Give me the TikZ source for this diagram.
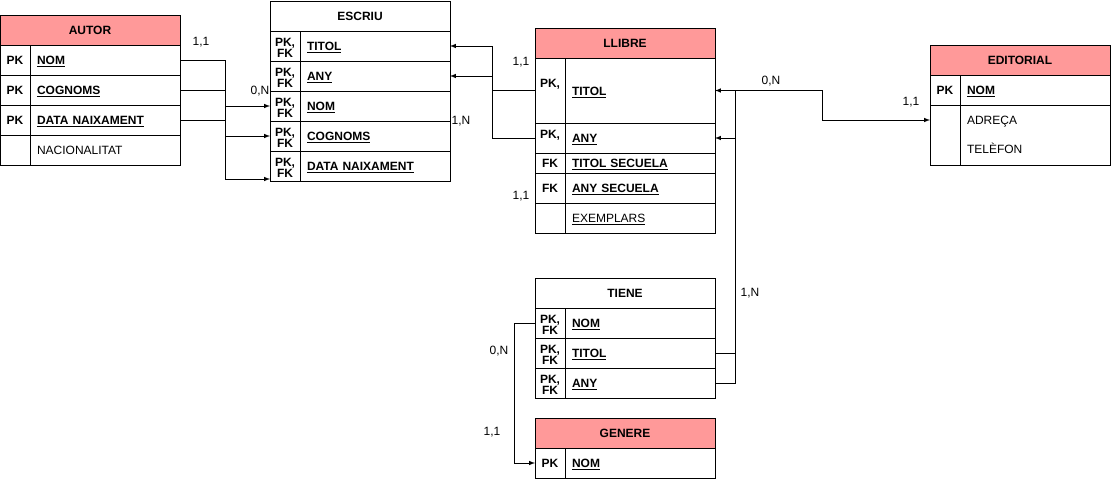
\documentclass[tikz,border=0pt]{standalone}
\usepackage{fontspec}
\setmainfont{Liberation Sans}
\usetikzlibrary{positioning}
\definecolor{hdrred}{HTML}{FF9999}

\begin{document}
\begin{tikzpicture}[x=1pt, y=-1pt, line width=1pt, font=\fontsize{12}{12}\selectfont]
        \tikzstyle{head} = [rectangle, draw, minimum width=180pt, minimum height=30pt, inner sep=0pt, outer sep=0pt, text height=10pt, text depth=0.4pt, font=\fontsize{12}{12}\selectfont\bfseries]
        \tikzstyle{ent} = [head, fill=hdrred]
        \tikzstyle{key} = [rectangle, draw, minimum width=30pt, minimum height=30pt, inner sep=0pt, outer sep=0pt, align=center, text height=10pt, text depth=0.4pt, font=\fontsize{12}{11}\selectfont\bfseries]
        \tikzstyle{keyfk} = [key, text height=23pt, text depth=0pt]
        \tikzstyle{attr} = [rectangle, draw, minimum width=150pt, minimum height=30pt, text width=136pt, inner xsep=7pt, inner ysep=0pt, outer sep=0pt, align=left, text height=10pt, text depth=0.4pt]
        \tikzstyle{pk} = [attr, font=\fontsize{12}{12}\selectfont\bfseries]
        \tikzstyle{line} = [-latex]
        \tikzstyle{card} = [inner sep=0pt]
        \useasboundingbox (0,0) rectangle (1111,479);

        % AUTOR
        \node (autor) [ent, anchor=north west] at (0,15) {AUTOR};
        \node (anomk) [key, below right=0pt and 0pt of autor.south west] {PK};
        \node (anom) [pk, right=0pt of anomk] {\underline{NOM}};
        \node (acogk) [key, below=0pt of anomk] {PK};
        \node (acog) [pk, right=0pt of acogk] {\underline{COGNOMS}};
        \node (adatk) [key, below=0pt of acogk] {PK};
        \node (adat) [pk, right=0pt of adatk] {\underline{DATA NAIXAMENT}};
        \node (anack) [key, below=0pt of adatk] {};
        \node (anac) [attr, right=0pt of anack] {NACIONALITAT};

        % ESCRIU
        \node (escriu) [head, anchor=north west] at (270,1) {ESCRIU};
        \node (etitk) [keyfk, below right=0pt and 0pt of escriu.south west] {PK,\\FK};
        \node (etit) [pk, right=0pt of etitk] {\underline{TITOL}};
        \node (eanyk) [keyfk, below=0pt of etitk] {PK,\\FK};
        \node (eany) [pk, right=0pt of eanyk] {\underline{ANY}};
        \node (enomk) [keyfk, below=0pt of eanyk] {PK,\\FK};
        \node (enom) [pk, right=0pt of enomk] {\underline{NOM}};
        \node (ecogk) [keyfk, below=0pt of enomk] {PK,\\FK};
        \node (ecog) [pk, right=0pt of ecogk] {\underline{COGNOMS}};
        \node (edatk) [keyfk, below=0pt of ecogk] {PK,\\FK};
        \node (edat) [pk, right=0pt of edatk] {\underline{DATA NAIXAMENT}};

        % LLIBRE
        \node (llibre) [ent, anchor=north west] at (535,28) {LLIBRE};
        \node (ltitk) [key, minimum height=65pt, below right=0pt and 0pt of llibre.south west] {\raisebox{8pt}{PK,}};
        \node (ltit) [pk, minimum height=65pt, right=0pt of ltitk] {\underline{TITOL}};
        \node (lanyk) [key, below=0pt of ltitk] {\raisebox{4.5pt}{PK,}};
        \node (lany) [pk, right=0pt of lanyk] {\underline{ANY}};
        \node (ltsk) [key, minimum height=20pt, below=0pt of lanyk] {FK};
        \node (lts) [pk, minimum height=20pt, right=0pt of ltsk] {\underline{TITOL SECUELA}};
        \node (lask) [key, below=0pt of ltsk] {FK};
        \node (las) [pk, right=0pt of lask] {\underline{ANY SECUELA}};
        \node (lexk) [key, below=0pt of lask] {};
        \node (lex) [attr, right=0pt of lexk] {\underline{EXEMPLARS}};

        % EDITORIAL
        \node (editorial) [ent, anchor=north west] at (930,45) {EDITORIAL};
        \node (ednomk) [key, below right=0pt and 0pt of editorial.south west] {PK};
        \node (ednom) [pk, right=0pt of ednomk] {\underline{NOM}};
        \node (edadrk) [key, minimum height=60pt, below=0pt of ednomk] {};
        \node (edadr) [attr, minimum height=60pt, right=0pt of edadrk, text height=, text depth=, font=\fontsize{12}{29}\selectfont] {ADREÇA\\TELÈFON};

        % TIENE
        \node (tiene) [head, anchor=north west] at (535,278) {TIENE};
        \node (tnomk) [keyfk, below right=0pt and 0pt of tiene.south west] {PK,\\FK};
        \node (tnom) [pk, right=0pt of tnomk] {\underline{NOM}};
        \node (ttitk) [keyfk, below=0pt of tnomk] {PK,\\FK};
        \node (ttit) [pk, right=0pt of ttitk] {\underline{TITOL}};
        \node (tanyk) [keyfk, below=0pt of ttitk] {PK,\\FK};
        \node (tany) [pk, right=0pt of tanyk] {\underline{ANY}};

        % GENERE
        \node (genere) [ent, anchor=north west] at (535,418) {GENERE};
        \node (gnomk) [key, below right=0pt and 0pt of genere.south west] {PK};
        \node (gnom) [pk, right=0pt of gnomk] {\underline{NOM}};

        % relacions
        \draw [line] (anom.east) -- ++(45,0) |- ([yshift=-13pt]edatk.west);
        \draw [line] (acog.east) -- ++(45,0) |- (enomk.west);
        \draw [line] (adat.east) -- ++(45,0) |- (ecogk.west);
        \draw [line] (ltitk.west) -- ++(-43,0) |- (etit.east);
        \draw [line] (lanyk.west) -- ++(-43,0) |- (eany.east);
        \draw [line] (ttit.east) -- ++(20,0) |- (ltit.east);
        \draw [line] (tany.east) -- ++(20,0) |- (lany.east);
        \draw [line] (ltit.east) -- ++(107,0) |- ([yshift=15pt]edadrk.west);
        \draw [line] (tnomk.west) -- ++(-21,0) |- (gnomk.west);

        % cardinalitats
        \node (c1) [card] at (201,42) {1,1};
        \node (c2) [card] at (260,91) {0,N};
        \node (c3) [card] at (461,121) {1,N};
        \node (c4) [card] at (521,62) {1,1};
        \node (c5) [card] at (521,196) {1,1};
        \node (c6) [card] at (771,81) {0,N};
        \node (c7) [card] at (911,102) {1,1};
        \node (c8) [card] at (750,293) {1,N};
        \node (c9) [card] at (499,351) {0,N};
        \node (c10) [card] at (492,432) {1,1};
\end{tikzpicture}
\end{document}
